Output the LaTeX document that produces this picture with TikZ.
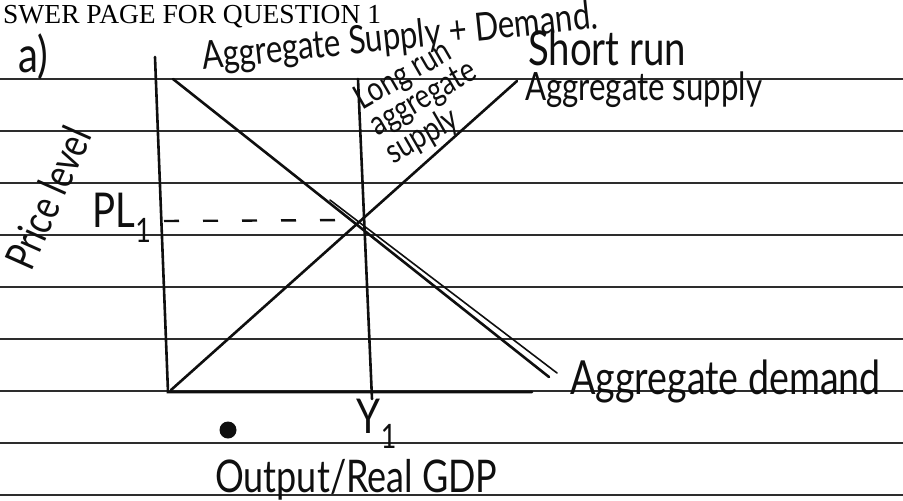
\documentclass[tikz,border=0pt]{standalone}
\usepackage{fontspec}
\setmainfont{Liberation Serif}
\newfontfamily\handfont[FakeStretch=0.8]{Lato}
\usetikzlibrary{positioning, calc}
\definecolor{myink}{RGB}{15,15,15}
\definecolor{myrule}{RGB}{45,45,45}
\newcommand{\handsz}[2]{\handfont\fontsize{#1}{#2}\selectfont}
\tikzset{
  pen/.style={myink, line width=2.6pt, line cap=round},
  rule/.style={myrule, line width=1.8pt},
  hand/.style={myink, inner sep=0pt},
}
\begin{document}
\begin{tikzpicture}[x=1pt, y=-1pt]
\useasboundingbox (0,0) rectangle (903,501);
\foreach \yy in {79,131,...,495}
  \draw[rule] (0,\yy) -- (903,\yy);
\node[anchor=base west, inner sep=0pt, font=\fontsize{27.5}{30}\selectfont] (head) at (3,23) {SWER PAGE FOR QUESTION 1};
\node[hand, font=\handsz{50}{55}, anchor=base] (part) at (33,72) {a)};
\node[hand, font=\handsz{39}{43}, rotate=6, anchor=base west, text height=25pt, text depth=8pt] (title) at (203,70) {Aggregate Supply + Demand.};
\coordinate (ytop) at (155,57);
\coordinate (orig) at (168,392);
\coordinate (xend) at (532,392);
\coordinate (lrtop) at (358,79);
\coordinate (lrbot) at (372,399);
\coordinate (srbot) at (171,390);
\coordinate (srtop) at (517,81);
\coordinate (adtop) at (173,79);
\coordinate (adend) at (549,377);
\coordinate (adtwo) at (330,200);
\coordinate (adtwoend) at (557,373);
\coordinate (eq) at (358,220);
\coordinate (plstart) at (164,221);
\draw[pen] (ytop) -- (orig) -- (xend);
\draw[pen] (lrtop) -- (lrbot);
\draw[pen] (srbot) -- (srtop);
\draw[pen] (adtop) -- (adend);
\draw[pen, line width=1.6pt] (adtwo) -- (adtwoend);
\draw[myink, line width=2.4pt, dash pattern=on 15pt off 24pt] (plstart) -- (eq);
\node[hand, font=\handsz{48}{52}, anchor=base west] (sr) at (528,65) {Short run};
\node[hand, font=\handsz{39}{43}, anchor=base west] (srlab) at (525,100) {Aggregate supply};
\node[hand, font=\handsz{34}{26}, rotate=30, align=left] (lrlab) at (424,100) {Long run\\aggregate\\supply};
\node[hand, font=\handsz{47}{52}, anchor=base west] (adlab) at (570,394) {Aggregate demand};
\node[hand, font=\handsz{42}{46}, rotate=66] (plev) at (48,198) {Price level};
\node[hand, font=\handsz{48}{52}] (pl) at (122,218) {PL\textsubscript{1}};
\node[hand, font=\handsz{48}{52}] (y1) at (377,424) {Y\textsubscript{1}};
\node[circle, fill=myink, minimum size=17pt, inner sep=0pt] (dot) at (228,430) {};
\node[hand, font=\handsz{45}{50}, anchor=base west] (xlab) at (215,492) {Output/Real GDP};
\end{tikzpicture}
\end{document}
